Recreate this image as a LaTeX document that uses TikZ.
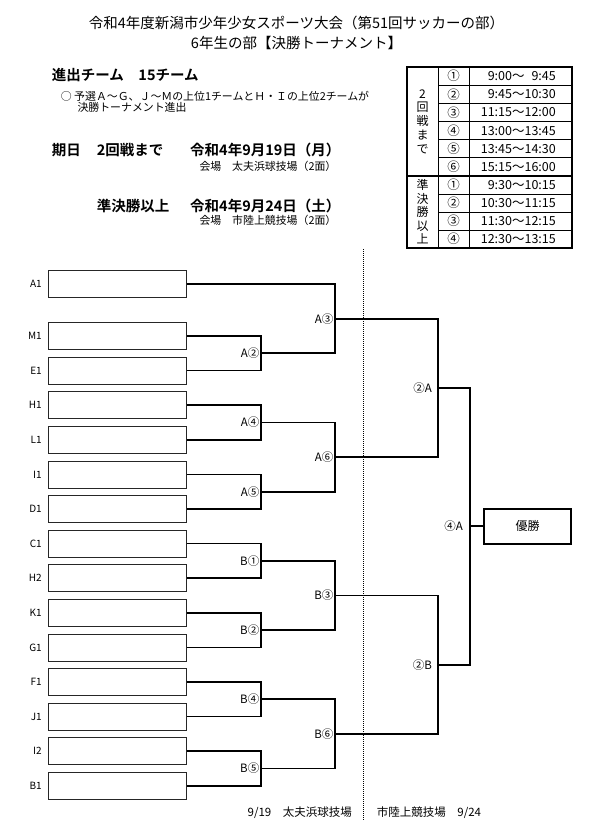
\documentclass[tikz,border=0pt]{standalone}
\usepackage{fontspec}
\setmainfont{Noto Sans CJK JP}[BoldFont={* Bold}]
\usetikzlibrary{positioning, calc}

\begin{document}
\begin{tikzpicture}[x=1pt, y=-1pt,
  teambox/.style={rectangle, draw=black!85, line width=0.8pt, minimum width=138pt,
                  minimum height=27pt, inner sep=0pt},
  seedlbl/.style={font=\fontsize{10}{11}\selectfont, inner sep=0pt},
  gamelbl/.style={font=\fontsize{11.5}{13}\selectfont, inner sep=0pt},
  bracket/.style={line width=1.7pt, line join=miter},
  headtxt/.style={font=\fontsize{14.5}{16}\selectfont\bfseries, anchor=west, inner sep=0pt},
  notetxt/.style={font=\fontsize{10.9}{12}\selectfont, anchor=west, inner sep=0pt},
  celltxt/.style={font=\fontsize{12.5}{14}\selectfont, inner sep=0pt},
  rule/.style={line width=0.8pt},
  frame/.style={line width=1.8pt}
]
\useasboundingbox (0,0) rectangle (593,829);

\node[font=\fontsize{14.5}{19.4}\selectfont, align=center] (title) at (296.5,33)
  {令和4年度新潟市少年少女スポーツ大会（第51回サッカーの部）\\6年生の部【決勝トーナメント】};

\node[headtxt] (teams) at (51.7,75) {進出チーム　15チーム};
\node[notetxt] (rule1) at (60.7,96) {○ 予選Ａ～Ｇ、Ｊ～Ｍの上位1チームとＨ・Ｉの上位2チームが};
\node[notetxt] (rule2) at (77.3,107.5) {決勝トーナメント進出};
\node[headtxt] (day) at (51.7,150) {期日};
\node[headtxt] (round1) at (96.7,150) {2回戦まで};
\node[headtxt] (date1) at (190,150) {令和4年9月19日（月）};
\node[notetxt] (venue1) at (199.3,166.7) {会場　太夫浜球技場（2面）};
\node[headtxt] (round2) at (96.7,206) {準決勝以上};
\node[headtxt] (date2) at (190,206) {令和4年9月24日（土）};
\node[notetxt] (venue2) at (199.3,220.7) {会場　市陸上競技場（2面）};

% schedule
\draw[frame] (407,67) rectangle (572,248);
\draw[frame] (407,176) -- (572,176);
\draw[rule] (438,67) -- (438,248) (469,67) -- (469,248);
\foreach \y in {85.2,103.3,121.5,139.7,157.8,194,212,230}
  \draw[rule] (438,\y) -- (572,\y);
\node[celltxt, align=center, font=\fontsize{12}{13.7}\selectfont] (r2lbl) at (422.5,121.5) {2\\回\\戦\\ま\\で};
\node[celltxt, align=center, font=\fontsize{12}{13.5}\selectfont] (sflbl) at (422.5,212) {準\\決\\勝\\以\\上};
\foreach \c/\t [count=\i from 0] in {①/9:00～\phantom{1}9:45, ②/9:45～10:30, ③/11:15～12:00,
    ④/13:00～13:45, ⑤/13:45～14:30, ⑥/15:15～16:00} {
  \node[celltxt] (c\i) at (453.5,{76.1+18.17*\i}) {\c};
  \node[celltxt, anchor=east] (t\i) at (556,{76.1+18.17*\i}) {\t};
}
\foreach \c/\t [count=\i from 0] in {①/9:30～10:15, ②/10:30～11:15, ③/11:30～12:15, ④/12:30～13:15} {
  \node[celltxt] (d\i) at (453.5,{185+18*\i}) {\c};
  \node[celltxt, anchor=east] (u\i) at (556,{185+18*\i}) {\t};
}

% teams
\node[teambox] (a1) at (117.3,284) {};
\node[seedlbl, left=6pt of a1] (a1-s) {A1};
\foreach \n/\lab [count=\i from 0] in {m1/M1, e1/E1, h1/H1, l1/L1, i1/I1, d1/D1, c1/C1,
    h2/H2, k1/K1, g1/G1, f1/F1, j1/J1, i2/I2, b1/B1} {
  \node[teambox] (\n) at (117.3,{336+34.6*\i}) {};
  \node[seedlbl, left=6pt of \n] (\n-s) {\lab};
}

\coordinate (ga2) at (261,353.3);
\coordinate (ga4) at (261,422.5);
\coordinate (ga5) at (261,491.7);
\coordinate (gb1) at (261,560.9);
\coordinate (gb2) at (261,630.1);
\coordinate (gb4) at (261,699.3);
\coordinate (gb5) at (261,768.5);
\coordinate (ga3) at (335,318.65);
\coordinate (ga6) at (335,457.1);
\coordinate (gb3) at (335,595.5);
\coordinate (gb6) at (335,733.9);
\coordinate (s2a) at (438,387.9);
\coordinate (s2b) at (438,664.7);
\coordinate (f4a) at (470,526.3);
\node[draw, frame, minimum width=87pt, minimum height=35pt, font=\fontsize{12}{14}\selectfont] (champ) at (527.7,526.3) {優勝};

\draw[bracket] (m1.east) -| (ga2) |- (e1.east);
\draw[bracket] (h1.east) -| (ga4) |- (l1.east);
\draw[bracket] (i1.east) -| (ga5) |- (d1.east);
\draw[bracket] (c1.east) -| (gb1) |- (h2.east);
\draw[bracket] (k1.east) -| (gb2) |- (g1.east);
\draw[bracket] (f1.east) -| (gb4) |- (j1.east);
\draw[bracket] (i2.east) -| (gb5) |- (b1.east);
\draw[bracket] (a1.east) -| (ga3) |- (ga2);
\draw[bracket] (ga4) -| (ga6) |- (ga5);
\draw[bracket] (gb1) -| (gb3) |- (gb2);
\draw[bracket] (gb4) -| (gb6) |- (gb5);
\draw[bracket] (ga3) -| (s2a) |- (ga6);
\draw[bracket] (gb3) -| (s2b) |- (gb6);
\draw[bracket] (s2a) -| (f4a) |- (s2b);
\draw[bracket] (f4a) -- (champ.west);

\node[gamelbl, left=1.5pt of ga2] (ga2-l) {A②};
\node[gamelbl, left=1.5pt of ga3] (ga3-l) {A③};
\node[gamelbl, left=1.5pt of ga4] (ga4-l) {A④};
\node[gamelbl, left=1.5pt of ga5] (ga5-l) {A⑤};
\node[gamelbl, left=1.5pt of ga6] (ga6-l) {A⑥};
\node[gamelbl, left=1.5pt of gb1] (gb1-l) {B①};
\node[gamelbl, left=1.5pt of gb2] (gb2-l) {B②};
\node[gamelbl, left=1.5pt of gb3] (gb3-l) {B③};
\node[gamelbl, left=1.5pt of gb4] (gb4-l) {B④};
\node[gamelbl, left=1.5pt of gb5] (gb5-l) {B⑤};
\node[gamelbl, left=1.5pt of gb6] (gb6-l) {B⑥};
\node[gamelbl, left=6pt of s2a] (s2a-l) {②A};
\node[gamelbl, left=6pt of s2b] (s2b-l) {②B};
\node[gamelbl, left=7pt of f4a] (f4a-l) {④A};

% venues
\draw[line width=1.5pt, dash pattern=on 1pt off 1pt] (363.5,249) coordinate (divtop) -- (363.5,820) coordinate (divbot);
\node[celltxt, anchor=east, font=\fontsize{11.5}{13}\selectfont] (venueL) at (352,812.7) {9/19　太夫浜球技場};
\node[celltxt, anchor=west, font=\fontsize{11.5}{13}\selectfont] (venueR) at (376.7,812.7) {市陸上競技場　9/24};
\end{tikzpicture}
\end{document}
